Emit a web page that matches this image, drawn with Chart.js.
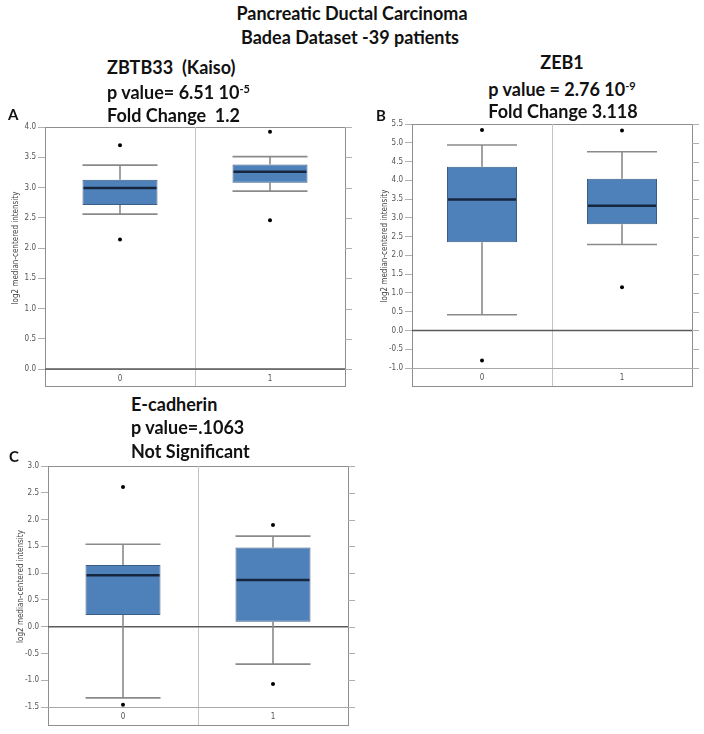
<!DOCTYPE html>
<html>
<head>
<meta charset="utf-8">
<script src="https://cdn.jsdelivr.net/npm/chart.js@4.4.1/dist/chart.umd.min.js"></script>
<style>
  html, body { margin: 0; padding: 0; background: #fff; }
  #wrap { position: relative; width: 704px; height: 734px; overflow: hidden; background: #fff; }
  canvas { position: absolute; }
  .t { position: absolute; font-family: Lato, 'Open Sans', sans-serif; font-weight: bold; color: #111; white-space: nowrap; font-size: 18px; line-height: 21.6px; }
  .t sup { font-size: 11px; vertical-align: 0; position: relative; top: -6px; }
  .lt { position: absolute; font-family: Lato, 'Open Sans', sans-serif; font-weight: bold; color: #111; font-size: 15px; line-height: 18px; }
  .c { transform: translateX(-50%); text-align: center; }
</style>
</head>
<body>
<div id="wrap">
  <canvas id="cA" width="355" height="272" style="left:0px;top:117px;"></canvas>
  <canvas id="cB" width="335" height="275" style="left:367px;top:114px;"></canvas>
  <canvas id="cC" width="355" height="272" style="left:3px;top:456px;"></canvas>

  <div class="t c" style="left:352px;top:3px;">Pancreatic Ductal Carcinoma</div>
  <div class="t c" style="left:350px;top:27px;">Badea Dataset -39 patients</div>

  <div class="t" style="left:107px;top:57px;">ZBTB33&nbsp; (Kaiso)</div>
  <div class="t" style="left:107px;top:82px;">p value= 6.51 10<sup>-5</sup></div>
  <div class="t" style="left:107px;top:104.5px;">Fold Change&nbsp; 1.2</div>
  <div class="lt" style="left:8px;top:105px;">A</div>

  <div class="t c" style="left:562px;top:52px;">ZEB1</div>
  <div class="t c" style="left:562px;top:79px;">p value = 2.76 10<sup>-9</sup></div>
  <div class="t c" style="left:563px;top:100.5px;">Fold Change 3.118</div>
  <div class="lt" style="left:376px;top:106px;">B</div>

  <div class="t" style="left:131px;top:394px;">E-cadherin</div>
  <div class="t" style="left:131px;top:417px;">p value=.1063</div>
  <div class="t" style="left:131px;top:440.5px;">Not Significant</div>
  <div class="lt" style="left:9px;top:447px;">C</div>
</div>
<script>
// ---------- DATA ----------
const categories = ['0', '1'];

// ZBTB33 (Kaiso)
const zbtbMin    = [2.56, 2.94];
const zbtbQ1     = [2.71, 3.08];
const zbtbMedian = [2.99, 3.26];
const zbtbQ3     = [3.13, 3.38];
const zbtbMax    = [3.37, 3.51];
const zbtbOutliers = [[3.70, 2.14], [3.92, 2.46]];
const zbtbAxis = [0, 4, 0.5];   // min, max, step

// ZEB1
const zebMin    = [0.42, 2.29];
const zebQ1     = [2.35, 2.83];
const zebMedian = [3.49, 3.32];
const zebQ3     = [4.36, 4.04];
const zebMax    = [4.94, 4.76];
const zebOutliers = [[5.34, -0.80], [5.33, 1.15]];
const zebAxis = [-1, 5.5, 0.5];

// E-cadherin
const ecadMin    = [-1.33, -0.70];
const ecadQ1     = [0.22, 0.09];
const ecadMedian = [0.96, 0.87];
const ecadQ3     = [1.15, 1.48];
const ecadMax    = [1.54, 1.69];
const ecadOutliers = [[2.61, -1.46], [1.90, -1.07]];
const ecadAxis = [-1.5, 3, 0.5];

const yTitle = 'log2 median-centered intensity';

// ---------- DRAWING ----------
Chart.defaults.font.family = "'Liberation Sans Narrow', 'DejaVu Sans Condensed', 'Liberation Sans', Arial, sans-serif";

const boxPlugin = {
  id: 'boxplot',
  beforeDatasetsDraw(chart) {
    const o = chart.options.plugins.boxplot;
    const ctx = chart.ctx;
    const {left, right, top, bottom} = chart.chartArea;
    const ys = chart.scales.y, xs = chart.scales.x;
    ctx.save();
    ctx.strokeStyle = '#8e8e8e';
    ctx.lineWidth = 1;
    ctx.strokeRect(Math.round(left) + 0.5, Math.round(top) + 0.5, Math.round(right - left), Math.round(bottom + o.band - top));
    const xd = Math.round((xs.getPixelForValue(0) + xs.getPixelForValue(1)) / 2) + 0.5;
    ctx.strokeStyle = '#c4c4c4';
    ctx.beginPath(); ctx.moveTo(xd, top); ctx.lineTo(xd, bottom + o.band); ctx.stroke();
    ctx.strokeStyle = '#a8a8a8';
    ctx.beginPath(); ctx.moveTo(left, Math.round(bottom) + 0.5); ctx.lineTo(right, Math.round(bottom) + 0.5); ctx.stroke();
    ctx.strokeStyle = '#b0b0b0';
    ys.ticks.forEach(t => {
      const y = Math.round(ys.getPixelForValue(t.value)) + 0.5;
      ctx.beginPath(); ctx.moveTo(right, y); ctx.lineTo(right + 7, y); ctx.stroke();
    });
    const y0 = ys.getPixelForValue(0);
    ctx.strokeStyle = '#5a5a5a';
    ctx.lineWidth = 1.5;
    ctx.beginPath(); ctx.moveTo(left, y0); ctx.lineTo(right, y0); ctx.stroke();
    const meta = chart.getDatasetMeta(0);
    ctx.strokeStyle = '#8a8a8a';
    ctx.lineWidth = 1.6;
    meta.data.forEach((bar, i) => {
      const x = bar.x, w = bar.width;
      const yLo = ys.getPixelForValue(o.min[i]);
      const yHi = ys.getPixelForValue(o.max[i]);
      const yQ1 = ys.getPixelForValue(o.q1[i]);
      const yQ3 = ys.getPixelForValue(o.q3[i]);
      ctx.beginPath();
      ctx.moveTo(x, yLo); ctx.lineTo(x, yQ1);
      ctx.moveTo(x, yQ3); ctx.lineTo(x, yHi);
      ctx.moveTo(x - w / 2, yLo); ctx.lineTo(x + w / 2, yLo);
      ctx.moveTo(x - w / 2, yHi); ctx.lineTo(x + w / 2, yHi);
      ctx.stroke();
    });
    ctx.restore();
  },
  afterDatasetsDraw(chart) {
    const o = chart.options.plugins.boxplot;
    const ctx = chart.ctx;
    const ys = chart.scales.y;
    const meta = chart.getDatasetMeta(0);
    ctx.save();
    ctx.strokeStyle = '#16263f';
    ctx.lineWidth = 2.5;
    meta.data.forEach((bar, i) => {
      const y = ys.getPixelForValue(o.median[i]);
      ctx.beginPath(); ctx.moveTo(bar.x - bar.width / 2 + 1, y); ctx.lineTo(bar.x + bar.width / 2 - 1, y); ctx.stroke();
    });
    ctx.restore();
  }
};

function makeBoxChart(id, mins, q1s, medians, q3s, maxs, outliers, axis, band, titlePad) {
  const boxes = categories.map((c, i) => [q1s[i], q3s[i]]);
  const pts = [];
  outliers.forEach((arr, i) => arr.forEach(v => pts.push({x: categories[i], y: v})));
  return new Chart(document.getElementById(id), {
    type: 'bar',
    data: {
      labels: categories,
      datasets: [
        {
          type: 'bar',
          data: boxes,
          backgroundColor: '#4e80b9',
          borderColor: '#3a5d86',
          borderWidth: 1,
          borderSkipped: false,
          barPercentage: 0.5,
          categoryPercentage: 1.0
        },
        {
          type: 'line',
          data: pts,
          showLine: false,
          pointRadius: 2,
          pointBorderWidth: 0,
          pointBackgroundColor: '#000',
          borderColor: '#000'
        }
      ]
    },
    options: {
      responsive: false,
      animation: false,
      events: [],
      layout: { padding: { top: 10, right: 10, bottom: 3, left: 0 } },
      plugins: {
        legend: { display: false },
        tooltip: { enabled: false },
        boxplot: { min: mins, q1: q1s, median: medians, q3: q3s, max: maxs, band: band }
      },
      scales: {
        x: {
          type: 'category',
          offset: true,
          grid: { display: false, drawTicks: false },
          border: { display: false },
          ticks: { color: '#555', font: { size: 8 }, padding: 5 },
          afterFit(s) { s.height = band; }
        },
        y: {
          min: axis[0], max: axis[1],
          grid: { drawOnChartArea: false, drawTicks: true, tickLength: 7, tickColor: '#b0b0b0' },
          border: { display: false },
          ticks: {
            stepSize: axis[2],
            color: '#555',
            font: { size: 8 },
            padding: 2,
            callback: v => Number(v).toFixed(1)
          },
          title: { display: true, text: yTitle, color: '#444', font: { size: 8 }, padding: { top: titlePad, bottom: 0 } },
          afterFit(s) { s.width = 45; }
        }
      }
    },
    plugins: [boxPlugin]
  });
}

makeBoxChart('cA', zbtbMin, zbtbQ1, zbtbMedian, zbtbQ3, zbtbMax, zbtbOutliers, zbtbAxis, 17, 11);
makeBoxChart('cB', zebMin, zebQ1, zebMedian, zebQ3, zebMax, zebOutliers, zebAxis, 18, 13);
makeBoxChart('cC', ecadMin, ecadQ1, ecadMedian, ecadQ3, ecadMax, ecadOutliers, ecadAxis, 18, 13);
</script>
</body>
</html>
